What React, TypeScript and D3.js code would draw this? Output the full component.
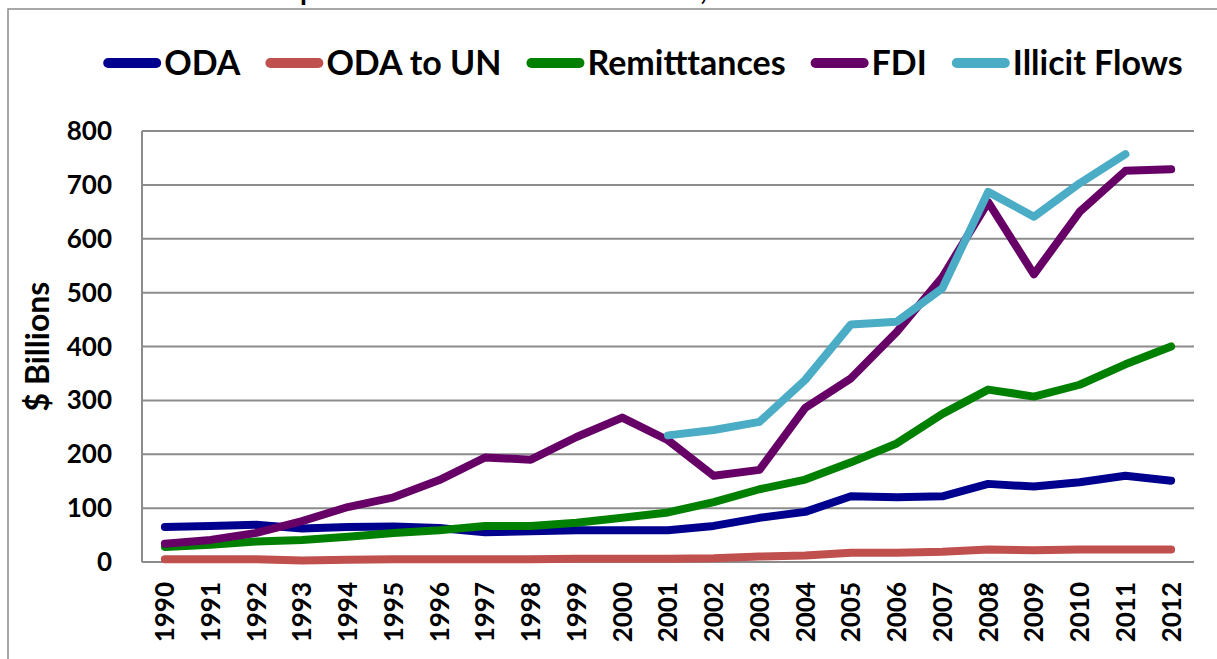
import { useEffect, useRef } from 'react'
import * as d3 from 'd3'

const years = d3.range(1990, 2013).map(String)

const oda = [65, 67, 69, 62, 65, 66, 63, 55, 57, 59, 59, 59, 67, 82, 93, 122, 120, 122, 145, 140, 148, 160, 151]
const odaToUn = [5, 5, 5, 3, 4, 5, 5, 5, 5, 6, 6, 6, 7, 10, 12, 17, 17, 19, 23, 22, 23, 23, 23]
const remittances = [28, 32, 38, 41, 47, 54, 59, 67, 67, 73, 82, 92, 111, 135, 153, 185, 220, 275, 320, 307, 329, 367, 400]
const fdi = [34, 41, 54, 76, 102, 120, 152, 194, 190, 232, 268, 226, 160, 171, 286, 341, 427, 529, 668, 534, 650, 726, 729]
const illicit = [null, null, null, null, null, null, null, null, null, null, null, 235, 245, 260, 338, 441, 446, 508, 687, 641, 703, 757, null]

const yTicks = [0, 100, 200, 300, 400, 500, 600, 700, 800]

const series = [
    { name: 'ODA', color: '#00008f', values: oda },
    { name: 'ODA to UN', color: '#c0504d', values: odaToUn },
    { name: 'Remitttances', color: '#008000', values: remittances },
    { name: 'FDI', color: '#660066', values: fdi },
    { name: 'Illicit Flows', color: '#4bacc6', values: illicit },
]

const W = 1217
const H = 659
const FONT = 'Lato, "Open Sans", sans-serif'

const App = () => {
    const svgRef = useRef<SVGSVGElement>(null)

    useEffect(() => {
        if (!svgRef.current) return
        const svg = d3.select(svgRef.current)
        svg.selectAll('*').remove()

        const margin = { top: 131, right: 23, bottom: 97, left: 142 }

        const x = d3
            .scaleBand()
            .domain(years)
            .range([margin.left, W - margin.right])
        const y = d3
            .scaleLinear()
            .domain([0, 800])
            .range([H - margin.bottom, margin.top])

        // outer frame (runs off the right and bottom edge)
        svg.append('rect')
            .attr('x', 8)
            .attr('y', 9)
            .attr('width', W + 50)
            .attr('height', H + 50)
            .attr('fill', 'none')
            .attr('stroke', '#8c8c8c')
            .attr('stroke-width', 1.5)

        // title, mostly cropped off above the frame like in the source
        svg.append('text')
            .attr('x', 212)
            .attr('y', 0)
            .attr('font-family', FONT)
            .attr('font-weight', 700)
            .attr('font-size', 28)
            .text('Development Resources vs. Illicit Flows, 1990-2012')

        // gridlines
        svg.append('g')
            .selectAll('line')
            .data(yTicks)
            .join('line')
            .attr('x1', margin.left)
            .attr('x2', W - margin.right)
            .attr('y1', d => y(d))
            .attr('y2', d => y(d))
            .attr('stroke', '#8c8c8c')
            .attr('stroke-width', 2)

        svg.append('line')
            .attr('x1', margin.left)
            .attr('x2', margin.left)
            .attr('y1', y(800))
            .attr('y2', y(0))
            .attr('stroke', '#8c8c8c')
            .attr('stroke-width', 2)

        // y tick labels
        svg.append('g')
            .selectAll('text')
            .data(yTicks)
            .join('text')
            .attr('x', 112)
            .attr('y', d => y(d))
            .attr('dy', '0.35em')
            .attr('text-anchor', 'end')
            .attr('font-family', FONT)
            .attr('font-weight', 700)
            .attr('font-size', 26)
            .text(d => d)

        // x tick labels (rotated)
        svg.append('g')
            .selectAll('text')
            .data(years)
            .join('text')
            .attr(
                'transform',
                d => `translate(${x(d)! + x.bandwidth() / 2},${H - margin.bottom + 20}) rotate(-90)`
            )
            .attr('dy', '0.36em')
            .attr('text-anchor', 'end')
            .attr('font-family', FONT)
            .attr('font-weight', 700)
            .attr('font-size', 26)
            .text(d => d)

        // axis title
        svg.append('text')
            .attr('transform', `translate(37,${(y(800) + y(0)) / 2}) rotate(-90)`)
            .attr('dy', '0.36em')
            .attr('text-anchor', 'middle')
            .attr('font-family', FONT)
            .attr('font-weight', 700)
            .attr('font-size', 32)
            .text('$ Billions')

        // lines
        const line = d3
            .line<number | null>()
            .defined(d => d != null)
            .x((_, i) => x(years[i])! + x.bandwidth() / 2)
            .y(d => y(d as number))

        svg.append('g')
            .selectAll('path')
            .data(series)
            .join('path')
            .attr('d', s => line(s.values))
            .attr('fill', 'none')
            .attr('stroke', s => s.color)
            .attr('stroke-width', 8)
            .attr('stroke-linecap', 'round')
            .attr('stroke-linejoin', 'round')

        // legend
        const legend = svg.append('g')
        const swatch = 58
        let cx = 0
        series.forEach((s, i) => {
            const g = legend.append('g').attr('transform', `translate(${cx},0)`)
            g.append('line')
                .attr('x1', 5)
                .attr('x2', swatch - 5)
                .attr('y1', 0)
                .attr('y2', 0)
                .attr('stroke', s.color)
                .attr('stroke-width', 10)
                .attr('stroke-linecap', 'round')
            const t = g
                .append('text')
                .attr('x', swatch + 3)
                .attr('y', 0)
                .attr('dy', '0.36em')
                .attr('font-family', FONT)
                .attr('font-weight', 700)
                .attr('font-size', 34)
                .text(s.name)
            const tw = (t.node() as SVGTextElement).getComputedTextLength()
            cx += swatch + 3 + tw + (i < series.length - 1 ? 25 : 0)
        })
        legend.attr('transform', `translate(${643 - cx / 2},63)`)
    }, [])

    return (
        <svg
            ref={svgRef}
            width={W}
            height={H}
            style={{ position: 'absolute', left: 0, top: 0, background: '#fff' }}
        ></svg>
    )
}

export default App
